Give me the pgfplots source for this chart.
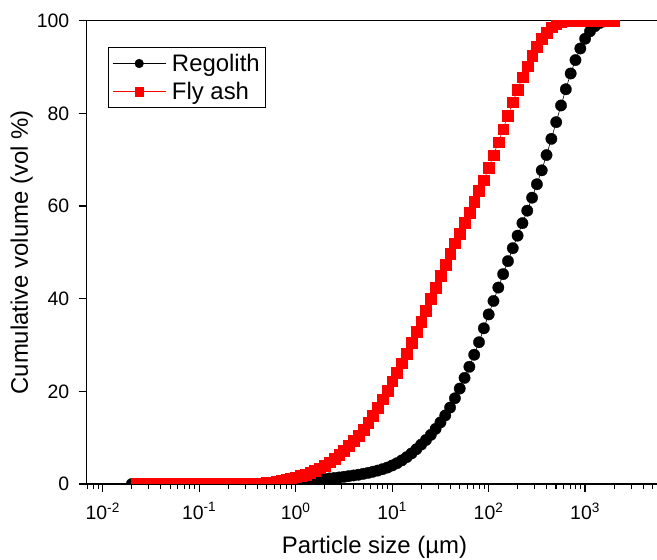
\documentclass[border=0pt]{standalone}
\usepackage{fontspec}
\setmainfont{Liberation Sans}
\usepackage{pgfplots}
\pgfplotsset{compat=1.18}
\usepackage{pgfplotstable}
\pgfplotstableread{
x reg fly
0.0200 0 nan
0.0224 0 0
0.0252 0 0
0.0283 0 0
0.0317 0 0
0.0356 0 0
0.0399 0 0
0.0448 0 0
0.0502 0 0
0.0564 0 0
0.0632 0 0
0.0710 0 0
0.0796 0 0
0.0893 0 0
0.1002 0 0
0.1125 0 0
0.1262 0 0
0.1416 0 0
0.1589 0 0
0.1783 0 0
0.2000 0 0
0.2244 0 0
0.2518 0 0
0.2825 0 0
0.3170 0 0
0.3557 0 0.02
0.3991 0 0.07
0.4477 0.02 0.15
0.5024 0.05 0.27
0.5637 0.10 0.42
0.6325 0.16 0.60
0.7096 0.23 0.80
0.7962 0.31 1.02
0.8934 0.40 1.25
1.0024 0.50 1.50
1.1247 0.60 1.75
1.2619 0.70 2.05
1.4159 0.80 2.40
1.5887 0.90 2.90
1.7825 1.00 3.40
2.0000 1.10 4.00
2.2440 1.20 4.70
2.5179 1.30 5.45
2.8251 1.42 6.30
3.1698 1.55 7.20
3.5566 1.70 8.20
3.9905 1.85 9.30
4.4774 2.00 10.5
5.0238 2.20 11.8
5.6368 2.40 13.2
6.3246 2.65 14.8
7.0963 2.90 16.5
7.9621 3.20 18.3
8.9337 3.55 20.2
10.024 4.00 22.2
11.247 4.50 24.1
12.619 5.10 26.1
14.159 5.80 28.2
15.887 6.60 30.5
17.825 7.50 32.8
20.000 8.50 35.1
22.440 9.50 37.5
25.179 10.6 40.0
28.251 11.9 42.4
31.698 13.3 45.0
35.566 14.8 47.4
39.905 16.5 49.8
44.774 18.5 52.0
50.238 20.6 54.1
56.368 22.9 56.4
63.246 25.3 58.6
70.963 27.9 60.9
79.621 30.6 63.3
89.337 33.6 65.6
100.24 36.6 68.2
112.47 39.5 71.0
126.19 42.4 73.8
141.59 45.3 76.6
158.87 48.1 79.5
178.25 50.9 82.4
200.00 53.6 85.1
224.40 56.3 87.8
251.79 59.0 90.2
282.51 61.8 92.4
316.98 64.7 94.4
355.66 67.7 96.1
399.05 71.0 97.5
447.74 74.5 98.6
502.38 78.1 99.3
563.68 81.7 99.7
632.46 85.2 99.9
709.63 88.6 100
796.21 91.5 100
893.37 94.0 100
1002.4 96.1 100
1124.7 97.7 100
1261.9 98.8 100
1415.9 99.5 100
1588.7 99.85 100
1782.5 100 100
2000.0 100 100
}\datatable

\begin{document}
\begin{tikzpicture}
\begin{axis}[
  name=ax,
  xmode=log,
  scale only axis,
  width=575.5bp, height=463.3bp,
  xmin=0.00682, xmax=6310,
  ymin=0, ymax=100,
  clip marker paths=true,
  axis line style={line width=1.2bp},
  tick style={line width=1.1bp, black},
  tick align=outside,
  xtick pos=lower,
  ytick pos=left,
  major tick length=8bp,
  minor tick length=5bp,
  xtick={0.01,0.1,1,10,100,1000},
  xticklabels={10\textsuperscript{-2},10\textsuperscript{-1},10\textsuperscript{0},10\textsuperscript{1},10\textsuperscript{2},10\textsuperscript{3}},
  minor xtick={0.007,0.008,0.009,0.02,0.03,0.04,0.05,0.06,0.07,0.08,0.09,0.2,0.3,0.4,0.5,0.6,0.7,0.8,0.9,2,3,4,5,6,7,8,9,20,30,40,50,60,70,80,90,200,300,400,500,600,700,800,900,2000,3000,4000,5000,6000},
  ytick={0,20,40,60,80,100},
  /pgf/number format/assume math mode=true,
  tick label style={font=\fontsize{19.5}{19.5}\selectfont},
  xticklabel style={yshift=-7bp},
  yticklabel style={xshift=-6bp},
  xlabel={Particle size (µm)},
  ylabel={Cumulative volume (vol \%)},
  label style={font=\fontsize{24}{24}\selectfont},
  xlabel style={at={(axis description cs:0.5,0)}, anchor=base, yshift=-69bp},
  ylabel style={at={([xshift=-58.7bp]axis description cs:0,0.5)}, anchor=base},
  legend style={at={(axis description cs:0,1)}, anchor=north west, xshift=21.3bp, yshift=-26bp,
    draw=black, line width=0.8bp, font=\fontsize{24}{24}\selectfont, inner xsep=4bp, inner ysep=5bp,
    row sep=5bp, column sep=4bp},
  legend cell align=left,
  legend image code/.code={\draw[#1, mark size=4.4bp, mark repeat=2, mark phase=2] plot coordinates {(0bp,0bp) (26.5bp,0bp) (53bp,0bp)};},
]
\addplot[black, line width=0.6bp, mark=*, mark size=5.7bp, mark options={fill=black, line width=0.3bp}] table[x=x, y=reg] {\datatable};
\addlegendentry{Regolith}
\addplot[red, line width=0.6bp, mark=square*, mark size=5.4bp, mark options={fill=red, line width=0.3bp}] table[x=x, y=fly] {\datatable};
\addlegendentry{Fly ash}
\end{axis}
\pgfresetboundingbox
\path[use as bounding box] ([xshift=-86.7bp,yshift=-76bp]ax.south west) rectangle ([xshift=570.3bp,yshift=20.7bp]ax.north west);
\end{tikzpicture}
\end{document}
